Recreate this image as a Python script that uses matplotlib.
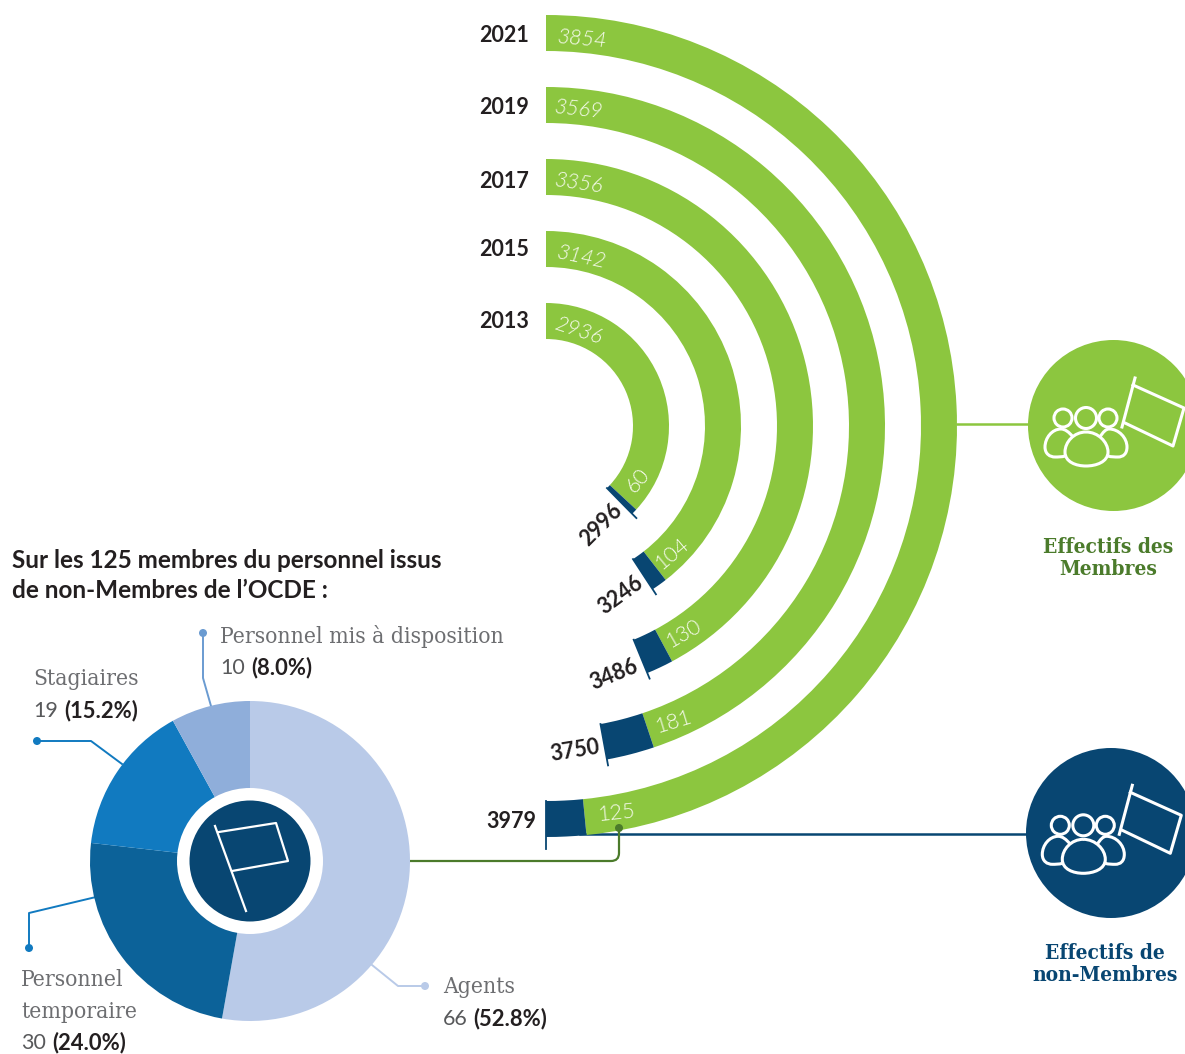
import matplotlib
matplotlib.use('Agg')
import numpy as np
import matplotlib.pyplot as plt
from matplotlib.patches import Wedge, Circle, PathPatch
from matplotlib.path import Path

# staff numbers per year
years = [2013, 2015, 2017, 2019, 2021]
membres = [2936, 3142, 3356, 3569, 3854]
non_membres = [60, 104, 130, 181, 125]
totals = [2996, 3246, 3486, 3750, 3979]

# staff from non-members, per category
categories = ['Agents', 'Personnel temporaire', 'Stagiaires', 'Personnel mis à disposition']
counts = [66, 30, 19, 10]
shares = ['52.8', '24.0', '15.2', '8.0']

GREEN = '#8CC63F'
NAVY = '#084672'
DARK_GREEN = '#4B7B2B'
TEXT = '#231F20'
GREY = '#6D6E71'
PIE_COLORS = ['#B9CAE8', '#0C6299', '#117AC0', '#8FAEDA']

SERIF = 'DejaVu Serif'
SANS = 'Lato'

fig = plt.figure(figsize=(11.85, 10.54), dpi=100)
ax = fig.add_axes([0, 0, 1, 1])
ax.set_xlim(0, 1185)
ax.set_ylim(1054, 0)
ax.axis('off')
renderer = fig.canvas.get_renderer()

# --- half rings ---
CX, CY = 546, 426
OUTER = [123, 195, 267, 339, 411]
WIDTH = 36
FULL_SCALE = max(totals)
TICK_EXT = [6, 6, 6, 6, 12]

# horizontal leaders go under the rings
ax.plot([CX + 411, 1035], [424, 424], color=GREEN, lw=1.8, zorder=1)
ax.plot([580, 1030], [834, 834], color=NAVY, lw=1.8, zorder=1)

for r, m, t, ext in zip(OUTER, membres, totals, TICK_EXT):
    a_m = 180.0 * m / FULL_SCALE
    a_t = 180.0 * t / FULL_SCALE
    # y axis points down so angles run clockwise, -90 is the top
    ax.add_patch(Wedge((CX, CY), r, -90, -90 + a_m, width=WIDTH, fc=GREEN, ec='none', zorder=2))
    ax.add_patch(Wedge((CX, CY), r, -90 + a_m, -90 + a_t, width=WIDTH, fc=NAVY, ec='none', zorder=2))
    # small tick past the end of the ring
    ang = np.deg2rad(a_t)
    ax.plot([CX + (r - WIDTH) * np.sin(ang), CX + (r + ext) * np.sin(ang)],
            [CY - (r - WIDTH) * np.cos(ang), CY - (r + ext) * np.cos(ang)],
            color=NAVY, lw=1.3, zorder=3)

year_pos = [(504, 321), (504, 250), (504, 181), (504, 107), (504, 36)]
for y, pos in zip(years, year_pos):
    ax.text(pos[0], pos[1], str(y), ha='center', va='center', fontsize=15.5,
            family=SANS, weight='bold', color=TEXT)

member_pos = [(578, 331, -18), (581, 257, -12), (579, 183, -8), (579, 110, -6), (582, 39, -5)]
for v, (x, y, rot) in zip(membres, member_pos):
    ax.text(x, y, str(v), ha='center', va='center', rotation=rot, rotation_mode='anchor',
            fontsize=15.5, family=SANS, weight=300, style='italic', color='#F7FBEF', zorder=4)

non_member_pos = [(638, 481, 50), (672, 553, 40), (684, 633, 30), (674, 722, 17), (617, 813, 6)]
for v, (x, y, rot) in zip(non_membres, non_member_pos):
    ax.text(x, y, str(v), ha='center', va='center', rotation=rot, rotation_mode='anchor',
            fontsize=15.5, family=SANS, weight=300, color='#F7FBEF', zorder=4)

total_pos = [(601, 525, 45), (621, 595, 36), (614, 675, 22), (575, 751, 9), (511, 822, 0)]
for v, (x, y, rot) in zip(totals, total_pos):
    ax.text(x, y, str(v), ha='center', va='center', rotation=rot, rotation_mode='anchor',
            fontsize=15.5, family=SANS, weight='bold', color=TEXT, zorder=4)


def group_icon(dx, dy):
    """Three people and a flag, outlined in white."""
    style = dict(fc='none', ec='white', lw=2.2, zorder=6)
    for hx, hy, hr in [(1063, 418, 9), (1086, 418, 10.5), (1108, 418, 9)]:
        ax.add_patch(Circle((hx + dx, hy + dy), hr, **style))
    C = Path.CURVE4
    body = [((1086, 432), Path.MOVETO),
            ((1098, 432), C), ((1108, 442), C), ((1108, 452), C),
            ((1108, 462), C), ((1096, 466), C), ((1086, 466), C),
            ((1076, 466), C), ((1065, 462), C), ((1065, 452), C),
            ((1065, 442), C), ((1074, 432), C), ((1086, 432), C)]
    left = [((1073, 437), Path.MOVETO),
            ((1069, 432), C), ((1065, 429), C), ((1061, 429), C),
            ((1052, 429), C), ((1045, 438), C), ((1045, 447), C),
            ((1045, 454), C), ((1050, 457), C), ((1055, 457), C),
            ((1058, 457), C), ((1062, 457), C), ((1065, 456), C)]
    right = [((1100, 437), Path.MOVETO),
             ((1103, 432), C), ((1106, 429), C), ((1109, 429), C),
             ((1119, 429), C), ((1127, 438), C), ((1127, 447), C),
             ((1127, 454), C), ((1123, 457), C), ((1118, 457), C),
             ((1115, 457), C), ((1111, 457), C), ((1108, 456), C)]
    for seg in (body, left, right):
        verts = [(p[0] + dx, p[1] + dy) for p, _ in seg]
        ax.add_patch(PathPatch(Path(verts, [c for _, c in seg]), **style))
    ax.plot([1135 + dx, 1122 + dx], [378 + dy, 427 + dy], color='white', lw=2.2, zorder=6)
    ax.plot([1133 + dx, 1184 + dx, 1173 + dx, 1125 + dx],
            [385 + dy, 408 + dy, 446 + dy, 423 + dy], color='white', lw=2.2, zorder=6)


ax.add_patch(Circle((1113.5, 425.5), 85.5, fc=GREEN, ec='none', zorder=5))
group_icon(0, 0)
ax.add_patch(Circle((1111, 833), 85, fc=NAVY, ec='none', zorder=5))
group_icon(-2.7, 407.3)

ax.text(1108, 558, 'Effectifs des\nMembres', ha='center', va='center', fontsize=15,
        family=SERIF, stretch='condensed', weight='bold', color=DARK_GREEN, linespacing=1.15)
ax.text(1105, 964, 'Effectifs de\nnon-Membres', ha='center', va='center', fontsize=15,
        family=SERIF, stretch='condensed', weight='bold', color=NAVY, linespacing=1.15)

# connector from the pie to the 2021 non-member segment
ax.add_patch(PathPatch(Path([(410, 861), (611, 861), (619, 861), (619, 853), (619, 828)],
                            [Path.MOVETO, Path.LINETO, Path.CURVE3, Path.CURVE3, Path.LINETO]),
                       fc='none', ec=DARK_GREEN, lw=1.6, zorder=3))
ax.add_patch(Circle((619, 828), 4, fc=DARK_GREEN, ec='none', zorder=4))

# --- donut ---
PX, PY, PR = 250, 861, 160
start = -90.0
total_count = sum(counts)
for c, col in zip(counts, PIE_COLORS):
    end = start + 360.0 * c / total_count
    ax.add_patch(Wedge((PX, PY), PR, start, end, fc=col, ec='none', zorder=2))
    start = end
ax.add_patch(Circle((PX, PY), 73, fc='white', ec='none', zorder=3))
ax.add_patch(Circle((PX, PY), 60.5, fc=NAVY, ec='none', zorder=4))
ax.plot([215, 246], [826, 911], color='white', lw=1.6, zorder=5)
ax.plot([219, 276, 288, 232], [832, 823, 861, 871], color='white', lw=1.6, zorder=5)

# leaders for the donut labels
leaders = [([372, 398, 425], [965, 986, 986], PIE_COLORS[0], (425, 986)),
           ([96, 29, 29], [897, 913, 948], PIE_COLORS[2], (29, 948)),
           ([122, 91, 37], [764, 741, 741], PIE_COLORS[2], (37, 741)),
           ([211, 203, 203], [706, 678, 633], '#6A9BD1', (203, 633))]
for xs, ys, col, dot in leaders:
    ax.plot(xs, ys, color=col, lw=1.4, zorder=1)
    ax.add_patch(Circle(dot, 4, fc=col, ec='none', zorder=2))


def value_line(x, y, count, share):
    """Count in plain weight followed by the bold share."""
    t = ax.text(x, y, str(count), ha='left', va='center', fontsize=15.5, family=SANS,
                weight=400, color='#58595B')
    end = t.get_window_extent(renderer).x1
    ax.text(end + 6, y, '(' + share + '%)', ha='left', va='center', fontsize=15.8, family=SANS,
            weight='bold', color=TEXT)


label_style = dict(ha='left', va='center', fontsize=16.4, family=SERIF, stretch='condensed', color=GREY)
ax.text(443, 987, 'Agents', **label_style)
value_line(443, 1019, counts[0], shares[0])
ax.text(21, 980, 'Personnel', **label_style)
ax.text(21, 1012, 'temporaire', **label_style)
value_line(21, 1043, counts[1], shares[1])
ax.text(33, 679, categories[2], **label_style)
value_line(33, 711, counts[2], shares[2])
ax.text(220, 636, categories[3], **label_style)
value_line(220, 668, counts[3], shares[3])

ax.text(12, 560, 'Sur les 125 membres du personnel issus', ha='left', va='center', fontsize=17.45,
        family=SANS, weight='bold', color=TEXT)
ax.text(12, 591, 'de non-Membres de l’OCDE :', ha='left', va='center', fontsize=17.45,
        family=SANS, weight='bold', color=TEXT)

fig.savefig('out.png', dpi=100, facecolor='white')
